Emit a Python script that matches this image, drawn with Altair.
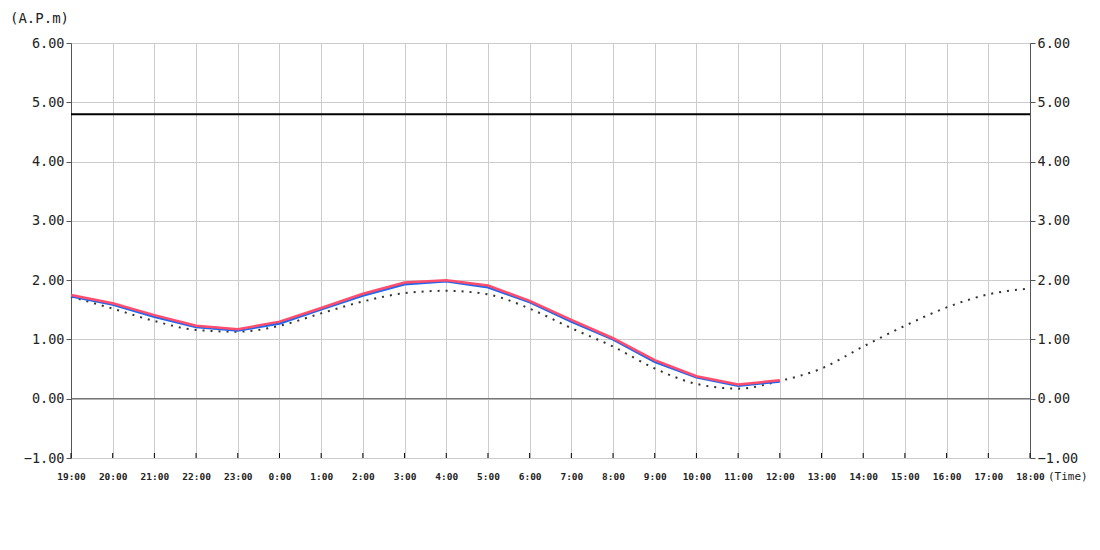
import altair as alt
import pandas as pd

hours = ["19:00", "20:00", "21:00", "22:00", "23:00", "0:00", "1:00", "2:00",
         "3:00", "4:00", "5:00", "6:00", "7:00", "8:00", "9:00", "10:00",
         "11:00", "12:00", "13:00", "14:00", "15:00", "16:00", "17:00", "18:00"]
red = [1.75, 1.61, 1.41, 1.23, 1.17, 1.30, 1.53, 1.77, 1.96, 2.00, 1.91, 1.65,
       1.33, 1.02, 0.65, 0.38, 0.24, 0.31]
blue = [1.73, 1.59, 1.38, 1.21, 1.15, 1.27, 1.51, 1.74, 1.93, 1.98, 1.88, 1.63,
        1.30, 1.00, 0.62, 0.36, 0.22, 0.29]
dotted = [1.72, 1.52, 1.31, 1.16, 1.13, 1.23, 1.44, 1.64, 1.78, 1.82, 1.76, 1.52,
          1.19, 0.88, 0.51, 0.25, 0.17, 0.30, 0.51, 0.88, 1.23, 1.54, 1.76, 1.86]
limit = [4.8]
zero = [0.0]
y_ticks = [-1, 0, 1, 2, 3, 4, 5, 6]

FONT = "DejaVu Sans Mono"
W, H = 959, 415

df_red = pd.DataFrame({"t": hours[:len(red)], "v": red})
df_blue = pd.DataFrame({"t": hours[:len(blue)], "v": blue})
df_dot = pd.DataFrame({"t": hours, "v": dotted})
df_hours = pd.DataFrame({"t": hours})

xsc = alt.Scale(type="point", domain=hours, padding=0)
ysc = alt.Scale(domain=[-1, 6], nice=False, zero=False)

x_axis = alt.Axis(title=None, labelAngle=0, ticks=False, domain=False,
                  grid=True, gridColor="#cccccc", labelFont=FONT,
                  labelFontSize=9.5, labelColor="#222", labelPadding=13,
                  labelFontWeight="bold")
x_enc = alt.X("t:N", scale=xsc, sort=hours, axis=x_axis)

left_axis = alt.Axis(title=None, values=y_ticks, format=".2f", grid=True,
                     gridColor="#cccccc", domainColor="#555", tickColor="#555",
                     tickSize=5, labelFont=FONT, labelFontSize=13.5,
                     labelColor="#222", labelPadding=2, orient="left")
right_axis = alt.Axis(title=None, values=y_ticks, format=".2f", grid=False,
                      domainColor="#555", tickColor="#555", tickSize=5,
                      labelFont=FONT, labelFontSize=13.5, labelColor="#222",
                      labelPadding=2, orient="right")

dot_layer = alt.Chart(df_dot).mark_line(
    color="#333333", strokeWidth=2, strokeDash=[2, 6], interpolate="monotone"
).encode(x=x_enc, y=alt.Y("v:Q", scale=ysc, axis=left_axis))

blue_layer = alt.Chart(df_blue).mark_line(color="#2266ee", strokeWidth=2.5).encode(
    x=x_enc, y=alt.Y("v:Q", scale=ysc, axis=None))

red_layer = alt.Chart(df_red).mark_line(color="#ff4d6d", strokeWidth=2.5).encode(
    x=x_enc, y=alt.Y("v:Q", scale=ysc, axis=None))

zero_layer = alt.Chart(pd.DataFrame({"v": zero})).mark_rule(
    color="#555555", strokeWidth=1).encode(
    y=alt.Y("v:Q", scale=ysc, axis=right_axis))

limit_layer = alt.Chart(pd.DataFrame({"v": limit})).mark_rule(
    color="#000000", strokeWidth=2).encode(
    y=alt.Y("v:Q", scale=ysc, axis=None))

tick_layer = alt.Chart(df_hours).mark_rule(color="#000000", strokeWidth=1).encode(
    x=x_enc, y=alt.value(H), y2=alt.value(H - 5))

ylabel = alt.Chart(pd.DataFrame({"s": ["(A.P.m)"]})).mark_text(
    font=FONT, fontSize=14, align="left", baseline="middle", color="#222"
).encode(x=alt.value(-61), y=alt.value(-24), text="s:N")

xlabel = alt.Chart(pd.DataFrame({"s": ["(Time)"]})).mark_text(
    font=FONT, fontSize=11, align="left", baseline="middle", color="#222"
).encode(x=alt.value(977), y=alt.value(434), text="s:N")

chart = alt.layer(
    dot_layer, zero_layer, limit_layer, blue_layer, red_layer, tick_layer,
    ylabel, xlabel
).resolve_axis(y="independent").properties(
    width=W, height=H,
    autosize=alt.AutoSizeParams(type="none"),
    padding={"left": 63, "top": 35, "right": 62, "bottom": 50},
).configure_view(stroke=None)

chart.save("out.html", embed_options={"renderer": "svg", "actions": False})
